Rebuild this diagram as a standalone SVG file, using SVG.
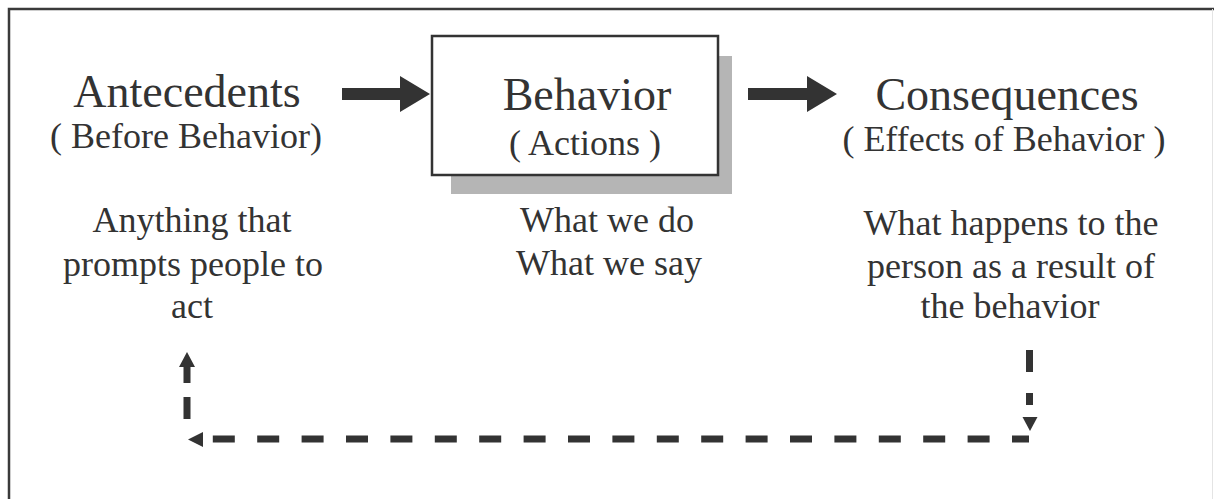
<svg xmlns="http://www.w3.org/2000/svg" width="1214" height="499" viewBox="0 0 1214 499">
  <style>
    .t { font-family: "Liberation Serif", "Times New Roman", serif; fill: #333; text-anchor: middle; }
    .h { font-size: 46px; }
    .s { font-size: 36px; }
    .fill { fill: #333; stroke: none; }
    .dash { fill: none; stroke: #333; stroke-width: 7; }
  </style>
  <rect width="1214" height="499" fill="#fff"/>
  <g id="frame">
    <path d="M9,499 V9 H1214" fill="none" stroke="#3a3a3a" stroke-width="2.5"/>
    <line x1="1212.5" y1="9" x2="1212.5" y2="499" stroke="#e4e4e4" stroke-width="1"/>
  </g>
  <g id="antecedents">
    <text class="t h" x="187" y="107">Antecedents</text>
    <text class="t s" x="186" y="148">( Before Behavior)</text>
    <text class="t s" x="192" y="232">Anything that</text>
    <text class="t s" x="193" y="276">prompts people to</text>
    <text class="t s" x="192" y="318">act</text>
  </g>
  <g id="behavior">
    <rect x="451" y="56" width="281" height="138" fill="#b5b5b5"/>
    <rect x="432" y="36" width="286" height="139" fill="#fff" stroke="#333" stroke-width="2.5"/>
    <text class="t h" x="587" y="110">Behavior</text>
    <text class="t s" x="585" y="155">( Actions )</text>
    <text class="t s" x="607" y="232">What we do</text>
    <text class="t s" x="609" y="275">What we say</text>
  </g>
  <g id="consequences">
    <text class="t h" x="1007" y="110">Consequences</text>
    <text class="t s" x="1004" y="151">( Effects of Behavior )</text>
    <text class="t s" x="1011" y="235">What happens to the</text>
    <text class="t s" x="1011" y="278">person as a result of</text>
    <text class="t s" x="1010" y="318">the behavior</text>
  </g>
  <g id="connectors">
    <polygon class="fill" points="342,88 400,88 400,76 430,94 400,112 400,100 342,100"/>
    <polygon class="fill" points="748,88 807,88 807,76 837,94 807,112 807,100 748,100"/>
    <path class="dash" d="M1029.5,350 V405" stroke-dasharray="22 21"/>
    <polygon class="fill" points="1022.5,417 1037.5,417 1030,431"/>
    <path class="dash" d="M1029,439 H212" stroke-dasharray="22 22.4" stroke-dashoffset="5" stroke-width="6"/>
    <polygon class="fill" points="188,439.5 203,432 203,447"/>
    <path class="dash" d="M187,419 V366" stroke-dasharray="22 14"/>
    <polygon class="fill" points="187,352 195,367 179,367"/>
  </g>
</svg>
